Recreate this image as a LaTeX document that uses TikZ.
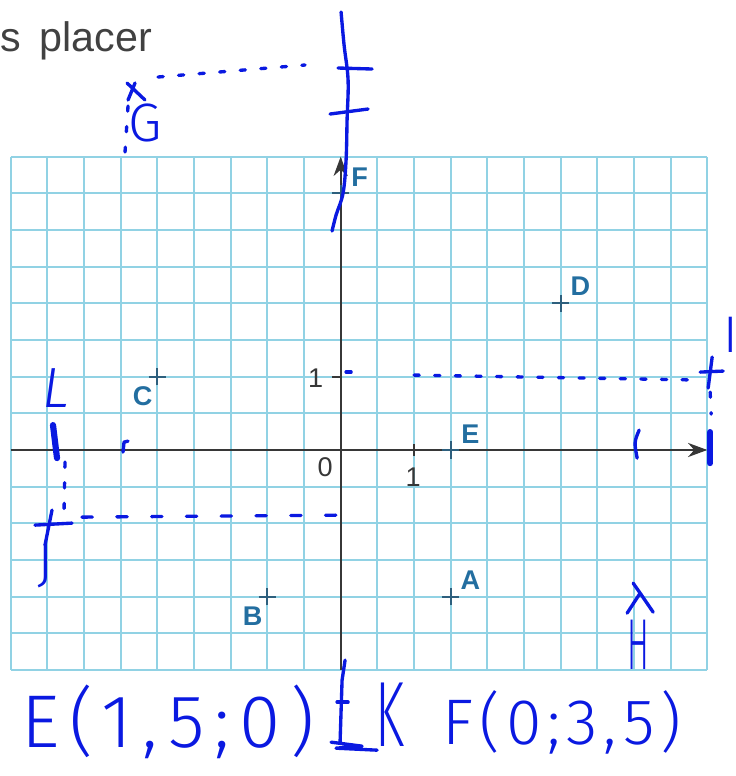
\documentclass[tikz,border=0pt]{standalone}
\usepackage{fontspec}
\setmainfont{Liberation Sans}
\newfontfamily\handfont[UprightFont=* Light,ItalicFont=* Light Italic]{Fira Sans}
\usetikzlibrary{arrows.meta}
\definecolor{gridcyan}{RGB}{145,210,228}
\definecolor{axisgray}{RGB}{55,55,55}
\definecolor{ptteal}{RGB}{35,110,160}
\definecolor{crossteal}{RGB}{45,95,125}
\definecolor{inkblue}{RGB}{10,25,225}
\definecolor{textgray}{RGB}{65,65,65}

\begin{document}
\begin{tikzpicture}[x=1cm,y=1cm,
  gridline/.style={gridcyan,line width=0.8pt},
  axis/.style={axisgray,line width=0.65pt},
  ptcross/.style={crossteal,line width=0.7pt},
  ptlabel/.style={ptteal,font=\bfseries\fontsize{10.5}{12}\selectfont,inner sep=0pt},
  numlabel/.style={axisgray,font=\fontsize{10.5}{12}\selectfont,inner sep=0pt},
  ink/.style={inkblue,line width=1.3pt,line cap=round,line join=round},
  inkdots/.style={ink,dash pattern=on 2pt off 6pt},
  handtext/.style={inkblue,inner sep=0pt}]
  \useasboundingbox (-4.646,-4.446) rectangle (5.391,6.137);
  \node[anchor=base west,inner sep=0pt,textgray,font=\fontsize{16}{19}\selectfont] (title) at (-4.645,5.43) {s\, placer};
  \draw[gridline,step=0.5cm] (-4.5,-3) grid (5,4);
  \draw[axis,-{Stealth[length=7.5pt,width=5.5pt]}] (-4.5,0) -- (5,0);
  \draw[axis,-{Stealth[length=7.5pt,width=5.5pt]}] (0,-3) -- (0,4);
  \draw[axis] (1,-0.08) -- (1,0.08);
  \draw[axis] (-0.12,1) -- (0,1);
  \node[numlabel] (zero) at (-0.21,-0.23) {0};
  \node[numlabel] (onex) at (0.99,-0.37) {1};
  \node[numlabel] (oney) at (-0.34,0.98) {1};
  \foreach \n/\x/\y in {A/1.5/-2,B/-1/-2,C/-2.5/1,D/3/2,E/1.5/0,F/0/3.5}{
    \coordinate (\n) at (\x,\y);
    \draw[ptcross] (\x-0.12,\y) -- (\x+0.12,\y) (\x,\y-0.12) -- (\x,\y+0.12);
  }
  \node[ptlabel] (labA) at (1.77,-1.77) {A};
  \node[ptlabel] (labB) at (-1.2,-2.27) {B};
  \node[ptlabel] (labC) at (-2.7,0.74) {C};
  \node[ptlabel] (labD) at (3.27,2.23) {D};
  \node[ptlabel] (labE) at (1.77,0.22) {E};
  \node[ptlabel] (labF) at (0.26,3.72) {F};
  \begin{scope}[shift={(-4.646,6.137)},x=0.013637cm,y=-0.013637cm]
    \draw[ink] plot[smooth,tension=0.6] coordinates {(341,12) (344,45) (348,80) (347,120) (346,160) (343,193) (336,215) (332,231)};
    \draw[ink] (338,68) -- (372,69);
    \draw[ink] (330,114) -- (368,109);
    \draw[ink] (127,83) -- (145,100) (135,83) -- (128,100);
    \node[handtext,font=\handfont\fontsize{21}{24}\selectfont] (G) at (145,123) {G};
    \draw[inkdots] (128,106) -- (125,152);
    \draw[inkdots] (158,77) -- (305,65);
    \draw[ink] (346,372) -- (351,372);
    \draw[inkdots] (414,375) -- (700,380);
    \draw[ink] (700,372) -- (723,371) (712,357) -- (708,388);
    \node[handtext,font=\handfont\fontsize{20}{22}\selectfont] (I) at (731,335) {I};
    \draw[inkdots] (710,392) -- (711,414);
    \draw[ink,line width=2.4pt] (710,432) -- (710,463);
    \draw[ink] (639,430) .. controls (634,442) .. (637,458);
    \draw[ink] (633,583) -- (640,593) -- (653,612) (640,593) -- (627,613);
    \node[handtext,font=\handfont\fontsize{28}{30}\selectfont] (H) at (638,645) {\scalebox{0.45}[1]{H}};
    \node[handtext,font=\handfont\itshape\fontsize{22}{24}\selectfont] (L) at (56,388) {L};
    \draw[ink,line width=2.4pt] (53,425) -- (57,458);
    \draw[inkdots] (65,462) -- (64,512);
    \draw[ink] (123,452) -- (124,442) -- (128,441);
    \draw[ink] (35,525) -- (72,523) (52,510) -- (45,545);
    \node[handtext,font=\handfont\fontsize{21}{24}\selectfont] (J) at (45,566) {J};
    \draw[ink,dash pattern=on 4pt off 9.5pt] (82,517) -- (343,515);
    \draw[ink] (345,660) -- (342,680) -- (340,742);
    \draw[ink] (337,702) -- (348,702);
    \draw[ink] (331,742) -- (362,746) -- (336,748) -- (377,750);
    \node[handtext,font=\handfont\fontsize{36}{38}\selectfont] (K) at (390,715) {\scalebox{0.57}[1]{K}};
    \node[handtext,font=\handfont\fontsize{29}{30}\selectfont\addfontfeatures{LetterSpace=13}] (Ecoord) at (168,722) {E(1,5;0)};
    \node[handtext,font=\handfont\fontsize{25}{26}\selectfont\addfontfeatures{LetterSpace=9}] (Fcoord) at (562,722) {F(0;3,5)};
  \end{scope}
\end{tikzpicture}
\end{document}
